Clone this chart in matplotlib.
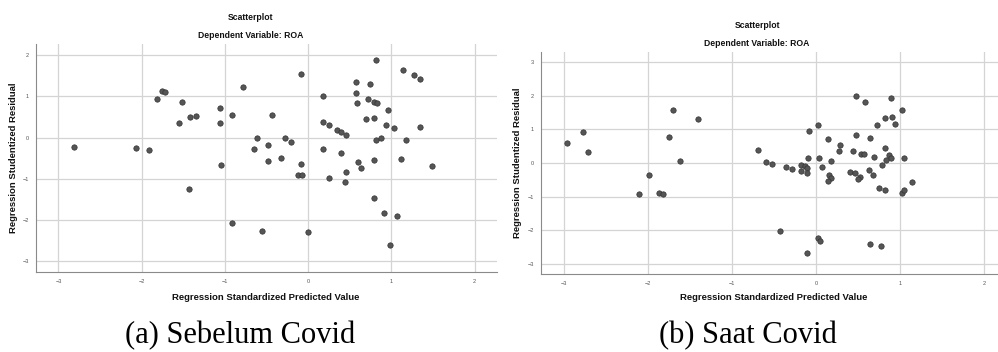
import matplotlib
matplotlib.use('Agg')
import matplotlib.pyplot as plt

# (a) Sebelum Covid - predicted value vs studentized residual
pre_x = [-2.81, -2.07, -1.91, -1.82, -1.76, -1.72, -1.51, -1.55, -1.42, -1.35,
         -1.06, -1.06, -0.91, -0.78, -1.05, 0.81, -0.08, 1.14, 1.27, 1.34,
         0.58, 0.74, 0.58, 0.18, 0.72, 0.79, 0.83, 0.59, 0.96, -0.43,
         0.69, 0.79, 0.18, 0.25, 0.35, 0.40, 0.46, 0.94, 1.03, 1.34,
         -0.62, -0.28, -0.20, -0.65, -0.48, 0.81, 0.88, 1.18, 0.18, 0.40,
         -0.48, -0.33, -0.08, 0.60, 0.63, 0.79, 1.12, 1.49, 0.46, -0.12,
         -0.07, 0.25, 0.44, 0.79, 0.91, 1.07, 0.98, -0.91, -0.56, 0.00, -1.43]
pre_y = [-0.22, -0.26, -0.30, 0.93, 1.13, 1.10, 0.87, 0.36, 0.49, 0.53,
         0.71, 0.35, 0.55, 1.22, -0.66, 1.88, 1.55, 1.64, 1.51, 1.43,
         1.34, 1.30, 1.09, 1.02, 0.94, 0.87, 0.83, 0.83, 0.68, 0.55,
         0.45, 0.48, 0.37, 0.30, 0.19, 0.14, 0.07, 0.31, 0.22, 0.26,
         -0.02, -0.01, -0.11, -0.27, -0.18, -0.06, 0.00, -0.07, -0.27, -0.38,
         -0.58, -0.49, -0.63, -0.59, -0.75, -0.55, -0.52, -0.68, -0.83, -0.90,
         -0.90, -0.98, -1.07, -1.46, -1.84, -1.90, -2.60, -2.07, -2.26, -2.30, -1.25]

# (b) Saat Covid
dur_x = [-2.97, -2.78, -2.72, -1.70, -1.40, -1.75, -1.62, -1.99, -2.11, -1.87, -1.82,
         0.48, 0.58, 0.90, 1.02, 0.82, 0.91, 0.94, 0.73, 0.03, -0.08,
         0.14, 0.48, 0.65, 0.29, 0.27, 0.44, 0.54, 0.57, 0.82, 0.87,
         0.90, 0.84, 0.79, 1.05, 0.69, -0.69, -0.60, -0.52, -0.36, -0.28,
         -0.18, -0.13, -0.11, -0.18, -0.11, -0.09, 0.04, 0.18, 0.07, 0.41,
         0.47, 0.52, 0.63, 0.68, 0.16, 0.18, 0.14, 0.50, 0.75, 0.82,
         1.03, 1.05, 1.15, -0.43, 0.02, 0.05, -0.11, 0.64, 0.78]
dur_y = [0.60, 0.93, 0.33, 1.57, 1.30, 0.78, 0.05, -0.35, -0.93, -0.89, -0.93,
         2.01, 1.81, 1.93, 1.58, 1.33, 1.37, 1.17, 1.14, 1.13, 0.96,
         0.72, 0.85, 0.74, 0.53, 0.36, 0.35, 0.28, 0.26, 0.46, 0.24,
         0.14, 0.08, -0.06, 0.14, 0.18, 0.38, 0.02, -0.03, -0.12, -0.18,
         -0.07, -0.08, -0.14, -0.24, -0.31, 0.15, 0.16, 0.07, -0.13, -0.26,
         -0.30, -0.41, -0.22, -0.35, -0.37, -0.45, -0.54, -0.49, -0.75, -0.80,
         -0.90, -0.80, -0.57, -2.02, -2.24, -2.33, -2.69, -2.42, -2.47]

ticks = [-3, -2, -1, 0, 1, 2]

plt.rcParams['font.family'] = ['Liberation Sans', 'DejaVu Sans']

fig = plt.figure(figsize=(9.98, 3.52), dpi=100)
W, H = 998.0, 352.0


def panel(rect, xs, ys, xlim, ylim, yticks):
    ax = fig.add_axes(rect)
    ax.scatter(xs, ys, s=15, color='#555555', edgecolors='#333333',
               linewidths=0.5, zorder=3)
    ax.set_xlim(xlim)
    ax.set_ylim(ylim)
    ax.set_xticks(ticks)
    ax.set_yticks(yticks)
    ax.grid(True, color='#d4d4d4', linewidth=0.9, zorder=0)
    ax.tick_params(length=0, labelsize=4, colors='#555555', pad=5)
    for s in ['top', 'right']:
        ax.spines[s].set_visible(False)
    for s in ['left', 'bottom']:
        ax.spines[s].set_color('#8a8a8a')
        ax.spines[s].set_linewidth(0.8)
    return ax


# left panel
panel([36 / W, 1 - 272.3 / H, (497 - 36) / W, (272.3 - 44) / H],
      pre_x, pre_y, (-3.27, 2.27), (-3.27, 2.27), [-3, -2, -1, 0, 1, 2])
# right panel
panel([540.7 / W, 1 - 274.3 / H, (998 - 540.7) / W, (274.3 - 51.7) / H],
      dur_x, dur_y, (-3.28, 2.17), (-3.32, 3.32), [-3, -2, -1, 0, 1, 2, 3])

bold = dict(fontsize=6.2, fontweight='bold', ha='center', va='center', color='#111111')
fig.text(251 / W, 1 - 17.7 / H, 'Scatterplot', **bold)
fig.text(251 / W, 1 - 36 / H, 'Dependent Variable: ROA', **bold)
fig.text(758 / W, 1 - 25.7 / H, 'Scatterplot', **bold)
fig.text(757 / W, 1 - 43.3 / H, 'Dependent Variable: ROA', **bold)

lab = dict(fontsize=6.8, fontweight='bold', ha='center', va='center', color='#111111')
fig.text(266 / W, 1 - 297.7 / H, 'Regression Standardized Predicted Value', **lab)
fig.text(774 / W, 1 - 298 / H, 'Regression Standardized Predicted Value', **lab)
fig.text(14 / W, 1 - 158 / H, 'Regression Studentized Residual', rotation=90, **lab)
fig.text(518 / W, 1 - 163 / H, 'Regression Studentized Residual', rotation=90, **lab)

cap = dict(fontsize=22, family='Liberation Serif', ha='center', va='baseline')
fig.text(240 / W, 1 - 343 / H, '(a) Sebelum Covid', **cap)
fig.text(748 / W, 1 - 343 / H, '(b) Saat Covid', **cap)

fig.savefig('out.png', dpi=100)
